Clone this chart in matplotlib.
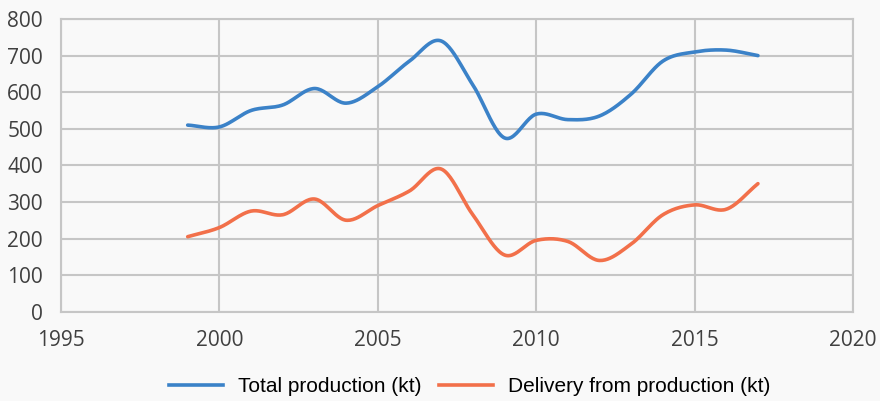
import numpy as np
import matplotlib.pyplot as plt
from matplotlib.lines import Line2D

years = list(range(1999, 2018))
totalProduction = [510, 505, 550, 565, 610, 570, 615, 685, 740, 620, 475,
                   540, 525, 535, 595, 685, 710, 715, 700]
delivery = [205, 230, 275, 265, 308, 250, 290, 330, 390, 265, 155,
            195, 192, 140, 185, 265, 292, 280, 350]
seriesNames = ["Total production (kt)", "Delivery from production (kt)"]
seriesColors = ["#3b82c8", "#f2704a"]


def smoothLine(x, y, steps=24):
    # cubic hermite through every point, tangents like a catmull-rom spline
    x = np.asarray(x, float)
    y = np.asarray(y, float)
    n = len(x)
    mx, my = np.zeros(n), np.zeros(n)
    mx[1:-1] = (x[2:] - x[:-2]) / 2
    my[1:-1] = (y[2:] - y[:-2]) / 2
    mx[0], my[0] = x[1] - x[0], y[1] - y[0]
    mx[-1], my[-1] = x[-1] - x[-2], y[-1] - y[-2]
    t = np.linspace(0, 1, steps, endpoint=False)
    h00 = 2*t**3 - 3*t**2 + 1
    h10 = t**3 - 2*t**2 + t
    h01 = -2*t**3 + 3*t**2
    h11 = t**3 - t**2
    xs, ys = [], []
    for i in range(n - 1):
        xs.append(h00*x[i] + h10*mx[i] + h01*x[i+1] + h11*mx[i+1])
        ys.append(h00*y[i] + h10*my[i] + h01*y[i+1] + h11*my[i+1])
    xs.append([x[-1]])
    ys.append([y[-1]])
    return np.concatenate(xs), np.concatenate(ys)


plt.rcParams['font.family'] = ['Open Sans', 'DejaVu Sans']

fig = plt.figure(figsize=(8.8, 4.01), dpi=100, facecolor="#f9f9f9")
ax = fig.add_axes([0.0693, 0.2227, 0.9, 0.7299])
ax.set_facecolor("#f9f9f9")

for vals, color in zip([totalProduction, delivery], seriesColors):
    sx, sy = smoothLine(years, vals)
    ax.plot(sx, sy, color=color, lw=2.6, solid_capstyle="round")

ax.set_xlim(1995, 2020)
ax.set_ylim(0, 800)
ax.set_xticks(range(1995, 2021, 5))
ax.set_yticks(range(0, 801, 100))
ax.grid(True, color="#c6c6c6", lw=1.5)
ax.set_axisbelow(True)
for s in ax.spines.values():
    s.set_color("#c6c6c6")
    s.set_linewidth(1.5)
ax.tick_params(length=0, labelsize=15, labelcolor="#404040")
ax.tick_params(axis="x", pad=13)
ax.tick_params(axis="y", pad=13)

handles = [Line2D([], [], color=c, lw=2.6) for c in seriesColors]
fig.legend(handles, seriesNames, loc="center", bbox_to_anchor=(0.534, 0.035),
           ncol=2, frameon=False, handlelength=2.6, handletextpad=0.72,
           columnspacing=0.82, prop={"family": "Liberation Sans", "size": 15})

fig.savefig("out.png", dpi=100, facecolor=fig.get_facecolor())
